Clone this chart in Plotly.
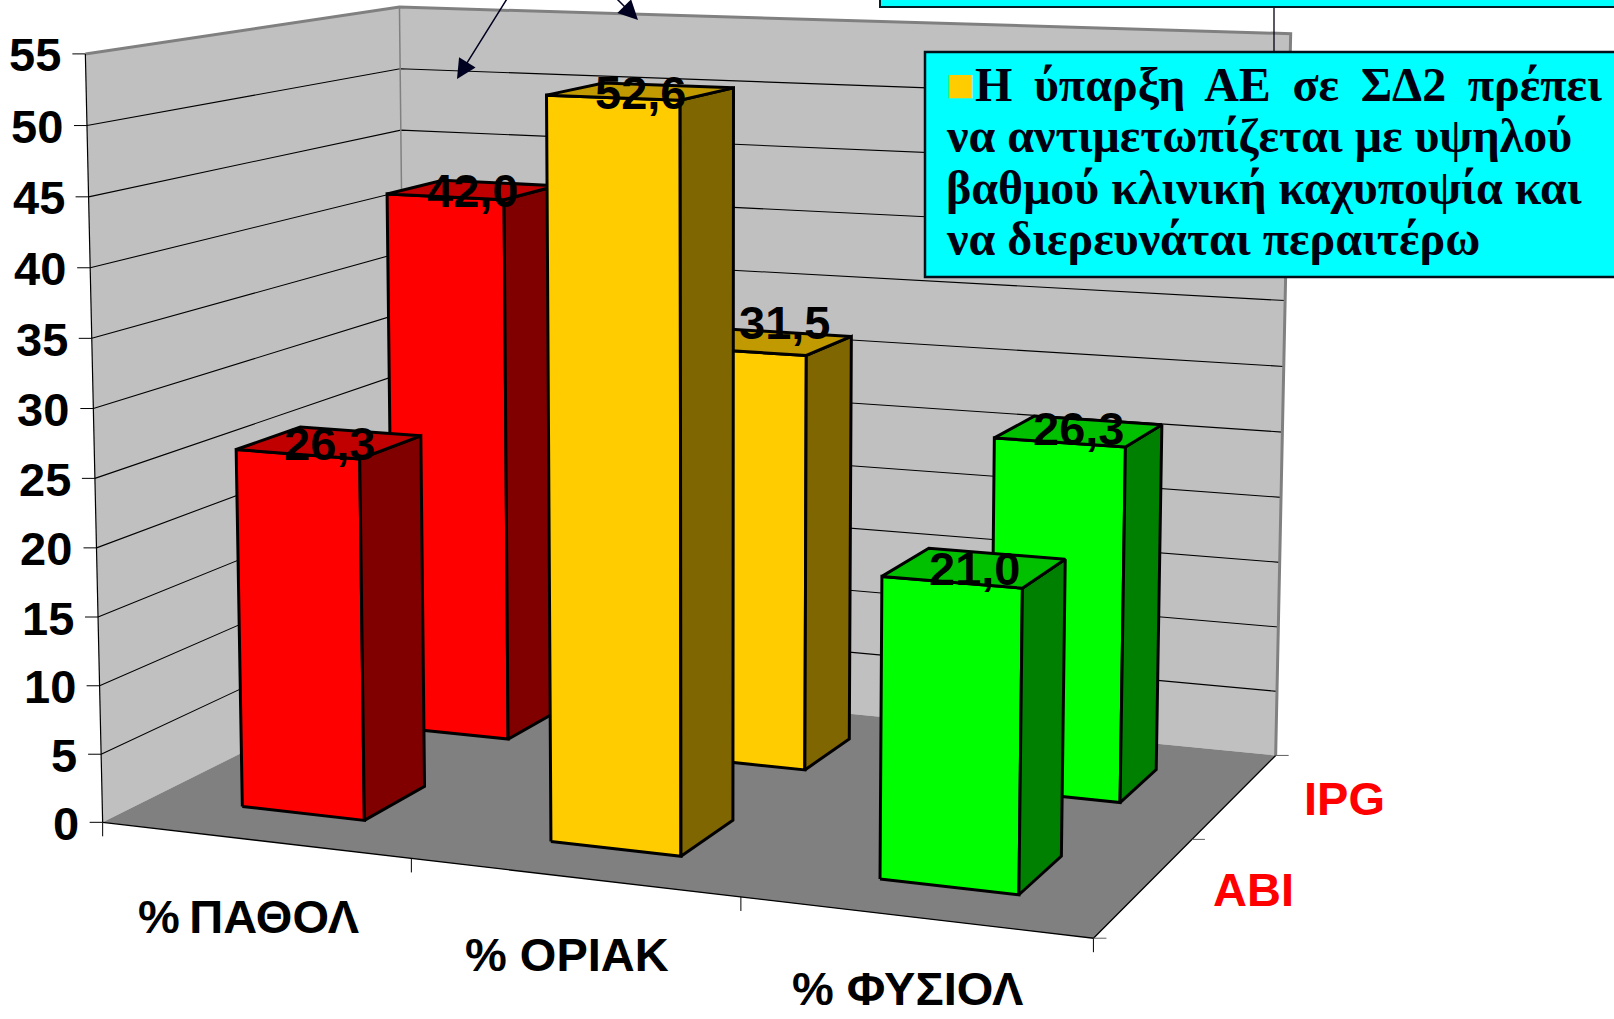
import numpy as np
import plotly.graph_objects as go

# Chart data
categories = ["%\u2009ΠΑΘΟΛ", "% ΟΡΙΑΚ", "% ΦΥΣΙΟΛ"]
series_names = ["ABI", "IPG"]
abi_values = [26.3, 52.6, 21.0]
ipg_values = [42.0, 31.5, 26.3]
value_ticks = list(range(0, 60, 5))
value_labels = {26.3: "26,3", 42.0: "42,0", 52.6: "52,6", 31.5: "31,5", 21.0: "21,0"}

# Face colours per category: front, side, top
face_colors = [
    ("#FF0000", "#800000", "#C00000"),
    ("#FFCC00", "#806600", "#C09A00"),
    ("#00FF00", "#008000", "#00C000"),
]

note_lines = [
    '<span style="color:#FFCC00">■</span>Η\u2009 ύπαρξη\u2009 ΑΕ\u2009 σε\u2009 ΣΔ2\u2009 πρέπει',
    "να αντιμετωπίζεται με υψηλού",
    "βαθμού κλινική καχυποψία και",
    "να διερευνάται περαιτέρω",
]

# Camera: the box (categories, series, value) is mapped on the page by a
# projective matrix solved from where the box corners fall.
W, H = 1614, 1019
ZMAX = 55.0
box_corners = [
    ((0, 0, 0), (103, 822)),
    ((3, 0, 0), (1093, 939)),
    ((3, 2, 0), (1276, 754.5)),
    ((0, 2, 0), (406.6, 671)),
    ((0, 0, ZMAX), (85.4, 53.5)),
    ((0, 2, ZMAX), (399.4, 7.2)),
    ((3, 2, ZMAX), (1290.7, 34)),
]


def solve_camera(pairs):
    rows = []
    for (x, y, z), (u, v) in pairs:
        rows.append([x, y, z, 1, 0, 0, 0, 0, -u * x, -u * y, -u * z, -u])
        rows.append([0, 0, 0, 0, x, y, z, 1, -v * x, -v * y, -v * z, -v])
    return np.linalg.svd(np.array(rows, float))[2][-1].reshape(3, 4)


CAM = solve_camera(box_corners)


def project(x, y, z):
    p = CAM @ np.array([x, y, z, 1.0])
    return p[0] / p[2], p[1] / p[2]


fig = go.Figure()


def polygon(points, fill=None, line="#000000", width=1.0):
    pts = [project(*q) for q in points]
    xs = [p[0] for p in pts]
    ys = [p[1] for p in pts]
    if fill:
        xs.append(xs[0])
        ys.append(ys[0])
    fig.add_trace(go.Scatter(
        x=xs, y=ys, mode="lines",
        fill="toself" if fill else None,
        fillcolor=fill,
        line=dict(color=line, width=width) if width else dict(width=0, color="rgba(0,0,0,0)"),
        hoverinfo="skip", showlegend=False,
    ))


def tick(point, dx, dy, color="#000000", width=1.0):
    u, v = project(*point)
    fig.add_trace(go.Scatter(
        x=[u, u + dx], y=[v, v + dy], mode="lines",
        line=dict(color=color, width=width),
        hoverinfo="skip", showlegend=False,
    ))


# Walls and floor
polygon([(0, 0, 0), (0, 2, 0), (0, 2, ZMAX), (0, 0, ZMAX)], fill="#C0C0C0", width=0)
polygon([(0, 2, 0), (3, 2, 0), (3, 2, ZMAX), (0, 2, ZMAX)], fill="#C0C0C0", width=0)
polygon([(0, 0, 0), (3, 0, 0), (3, 2, 0), (0, 2, 0)], fill="#808080", width=0)

# Gridlines
for v in value_ticks[1:-1]:
    polygon([(0, 0, v), (0, 2, v), (3, 2, v)], width=1.1)

# Wall rims and axis lines
polygon([(0, 0, ZMAX), (0, 2, ZMAX), (3, 2, ZMAX), (3, 2, 0)], line="#808080", width=3)
polygon([(0, 2, ZMAX), (0, 2, 0)], line="#808080", width=1.5)
polygon([(0, 0, 0), (0, 0, ZMAX)], width=1.2)
polygon([(0, 0, 0), (3, 0, 0), (3, 2, 0)], width=1.3)

# Tick marks
for v in value_ticks:
    tick((0, 0, v), -13, 0)
for i in range(4):
    tick((i, 0, 0), 0, 14)
for j in range(3):
    tick((3, j, 0), 13, 0, color="#606060")

# Bars, far row first and left to right within a row
BAR_LO, BAR_HI = 0.297, 0.70
DEPTH_LO, DEPTH_HI = 0.30, 0.70
EDGE = 3.0


def bar(cat, row, value):
    x0, x1 = cat + BAR_LO, cat + BAR_HI
    y0, y1 = row + DEPTH_LO, row + DEPTH_HI
    front, side, top = face_colors[cat]
    polygon([(x0, y0, 0), (x1, y0, 0), (x1, y0, value), (x0, y0, value)], fill=front, width=EDGE)
    polygon([(x1, y0, 0), (x1, y1, 0), (x1, y1, value), (x1, y0, value)], fill=side, width=EDGE)
    polygon([(x0, y0, value), (x1, y0, value), (x1, y1, value), (x0, y1, value)], fill=top, width=EDGE)


rows = [(1, ipg_values), (0, abi_values)]
for row, values in rows:
    for cat, value in enumerate(values):
        bar(cat, row, value)

annotations = []


def label(u, v, text, size, family="Liberation Sans", color="#000000", anchor="center"):
    annotations.append(dict(
        x=u, y=v, xref="x", yref="y", text=text, showarrow=False,
        xanchor=anchor, yanchor="middle",
        font=dict(size=size, family=family, color=color),
    ))


# Value labels over each bar; the 31,5 label sits clear of the taller bar beside it
label_shift = {(1, 1): (17, -21), (1, 2): (0, -4)}
for row, values in rows:
    for cat, value in enumerate(values):
        u, v = project(cat + (BAR_LO + BAR_HI) / 2, row + 0.5, value)
        dx, dy = label_shift.get((row, cat), (0, 0))
        label(u + dx, v + 1 + dy, f"<b>{value_labels[value]}</b>", 47)

# Axis labels
for v in value_ticks:
    u, w = project(0, 0, v)
    label(u - 22, w + 1, f"<b>{v}</b>", 47, anchor="right")
category_drop = [76, 77, 71]
for i, name in enumerate(categories):
    u, v = project(i + 0.5, 0, 0)
    label(u - 6, v + category_drop[i], f"<b>{name}</b>", 47)
for j, name in enumerate(series_names):
    u, v = project(3, j + 0.5, 0)
    label(u + 109, v + 3, f"<b>{name}</b>", 47, color="#FF0000")

# Callout boxes, connector and arrows
shapes = [
    dict(type="line", xref="x", yref="y", x0=1274, x1=1274, y0=7, y1=52,
         line=dict(color="#000010", width=1.3)),
    dict(type="rect", xref="x", yref="y", x0=880, x1=1640, y0=-20, y1=7,
         fillcolor="#00FFFF", line=dict(color="#00202A", width=2)),
    dict(type="rect", xref="x", yref="y", x0=925, x1=1640, y0=52, y1=277,
         fillcolor="#00FFFF", line=dict(color="#00101A", width=2.5)),
]
for k, line_text in enumerate(note_lines):
    annotations.append(dict(
        x=944, y=84 + k * 51.5, xref="x", yref="y", text=f"<b>{line_text}</b>",
        showarrow=False, xanchor="left", yanchor="middle",
        font=dict(size=48, family="Liberation Serif", color="#000010"),
    ))

for tail, head in [((510, -6), (457, 79)), ((612, -6), (638, 20))]:
    annotations.append(dict(
        x=head[0], y=head[1], ax=tail[0], ay=tail[1], xref="x", yref="y",
        axref="x", ayref="y", text="", showarrow=True, arrowhead=2,
        arrowsize=2.6, arrowwidth=1.5, arrowcolor="#000020",
    ))

fig.update_layout(
    width=W, height=H,
    margin=dict(l=0, r=0, t=0, b=0),
    paper_bgcolor="#FFFFFF", plot_bgcolor="#FFFFFF",
    xaxis=dict(range=[0, W], visible=False, fixedrange=True),
    yaxis=dict(range=[H, 0], visible=False, fixedrange=True),
    shapes=shapes, annotations=annotations,
)
fig.write_html("out.html")
